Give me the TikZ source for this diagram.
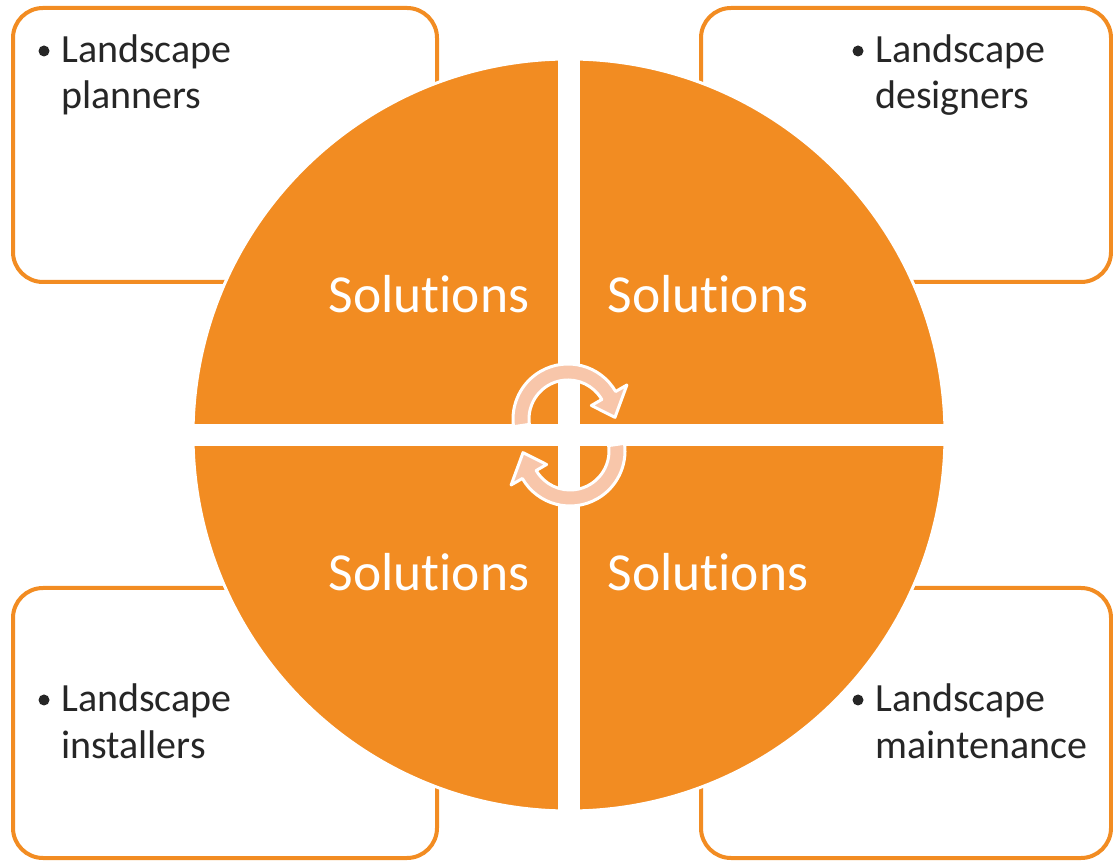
\documentclass[tikz,border=0pt]{standalone}
\usepackage{fontspec}
\setmainfont{Carlito}[Ligatures=CommonOff]
\usepackage{tikz}
\usetikzlibrary{positioning}
\definecolor{solorange}{RGB}{242,140,34}
\definecolor{solpeach}{RGB}{248,198,170}
\definecolor{soltext}{RGB}{38,38,38}

\begin{document}
\begin{tikzpicture}[x=1pt,y=1pt,
	groupbox/.style={draw=solorange,line width=4pt,rounded corners=30pt,fill=white},
	item/.style={inner sep=0pt,align=left,text=soltext,font=\fontsize{40}{46}\selectfont},
	mark bullet/.style={circle,fill=soltext,inner sep=0pt,minimum size=11pt},
	sol/.style={inner sep=0pt,text=white,font=\fontsize{53.5}{60}\selectfont},
	cycle arrow/.style={fill=solpeach,draw=white,line width=3pt,line join=round}]
	\useasboundingbox (0,0) rectangle (1113,862);
	% the four boxes
	\draw[groupbox] (13,580) rectangle (437,854);
	\draw[groupbox] (701,580) rectangle (1111,854);
	\draw[groupbox] (13,4) rectangle (437,274);
	\draw[groupbox] (701,4) rectangle (1111,274);
	% the circle and its cross
	\coordinate (c) at (569,427);
	\fill[solorange,draw=white,line width=3pt] (c) circle[radius=376];
	\fill[white] (558,40) rectangle (580,815);
	\fill[white] (180,416) rectangle (960,438);
	% texts
	\node[sol,anchor=base] (s_tl) at (429,549) {Solutions};
	\node[sol,anchor=base] (s_tr) at (708,549) {Solutions};
	\node[sol,anchor=base] (s_bl) at (429,271) {Solutions};
	\node[sol,anchor=base] (s_br) at (708,271) {Solutions};
	\node[item,anchor=base west] (planners) at (61,753) {Landscape\\planners};
	\node[item,anchor=base west] (designers) at (875,753) {Landscape\\designers};
	\node[item,anchor=base west] (installers) at (61,104) {Landscape\\installers};
	\node[item,anchor=base west] (maint) at (875,104) {Landscape\\maintenance};
	\node[mark bullet] (b_tl) at (44,811) {};
	\node[mark bullet] (b_tr) at (858,811) {};
	\node[mark bullet] (b_bl) at (44,162) {};
	\node[mark bullet] (b_br) at (858,162) {};
	% the two turning arrows
	\foreach \turn in {0,180} {
		\begin{scope}[rotate around={\turn:(c)}]
			\draw[cycle arrow,shift={(568,443)}] (188:39) arc[start angle=188,end angle=30,radius=39]
				-- (30:27) -- (2:47) -- (30:68) -- (30:55)
				arc[start angle=30,end angle=188,radius=55] -- cycle;
		\end{scope}
	}
\end{tikzpicture}
\end{document}
